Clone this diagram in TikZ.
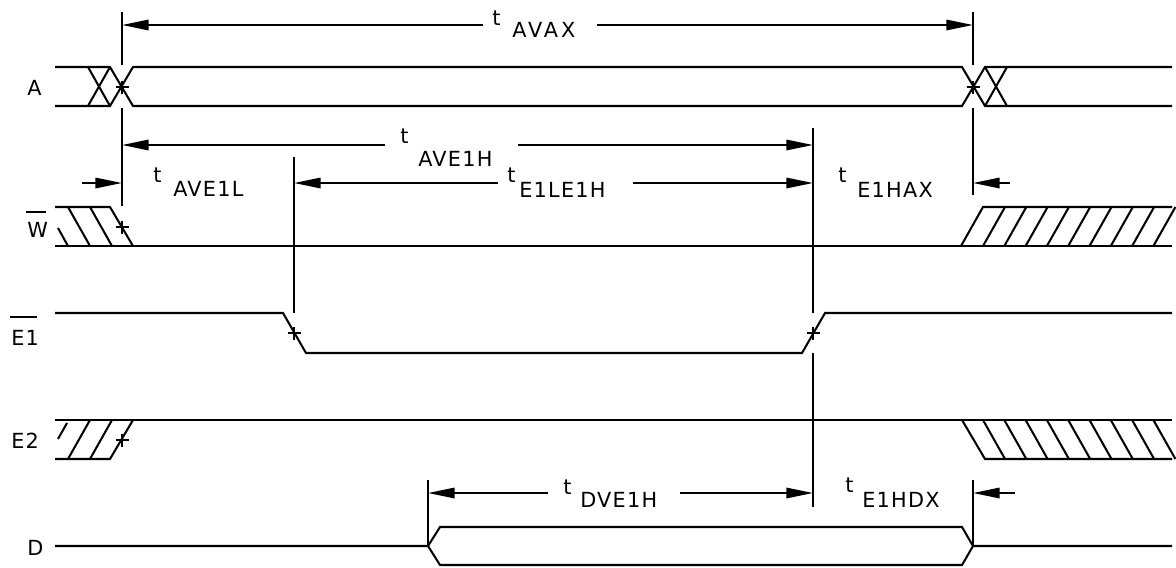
\documentclass[tikz,border=0pt]{standalone}
\usepackage{fontspec}
\setmainfont{DejaVu Sans}[LetterSpace=6.0]
\usetikzlibrary{arrows.meta,calc}
\begin{document}
\begin{tikzpicture}[x=0.025cm,y=-0.025cm,
  wave/.style={line width=1.45pt,line join=miter},
  refline/.style={line width=1.45pt},
  dim/.style={line width=1.45pt,-{Triangle[length=19pt,width=7.4pt]}},
  hatch/.style={line width=1.45pt},
  lbl/.style={inner sep=0pt,anchor=base west,font=\fontsize{14.8}{16}\selectfont},
  crossmark/.pic={\draw[line width=1.45pt] (-6.5,0)--(6.5,0) (0,-6.5)--(0,6.5);}]
\useasboundingbox (0,0) rectangle (1176,567);

% ---------- signal labels ----------
\node[lbl] (lA)  at (27,95)  {A};
\node[lbl] (lW)  at (27,237) {W};
\node[lbl] (lE1) at (11,345) {E1};
\node[lbl] (lE2) at (11,448) {E2};
\node[lbl] (lD)  at (27,555) {D};
\draw[line width=1.45pt] ($(lW.north west)+(-1,-10)$) -- ($(lW.north east)+(-2,-10)$);
\draw[line width=1.45pt] ($(lE1.north west)+(-1,-13)$) -- ($(lE1.north east)+(-2,-13)$);

% ---------- A (bus) ----------
\draw[wave] (55,67)--(110,67)--(133,106)--(962,106)--(985,67)--(1172,67);
\draw[wave] (55,106)--(110,106)--(133,67)--(962,67)--(985,106)--(1172,106);
\draw[wave] (88,67)--(110,106) (88,106)--(110,67);
\draw[wave] (985,67)--(1007,106) (985,106)--(1007,67);
\pic at (122,87) {crossmark};
\pic at (973,87) {crossmark};

% ---------- W ----------
\draw[wave] (55,207)--(110,207)--(133,246);
\draw[wave] (55,246)--(1172,246);
\draw[hatch] (58,228)--(68,246) (68,207)--(90,246) (90,207)--(112,246);
\pic at (122,227) {crossmark};
\draw[wave] (961,246)--(983,207)--(1172,207);
\foreach \x in {983,1004.3,1025.6,1046.9,1068.2,1089.5,1110.8,1132.1,1153.4}
  \draw[hatch] (\x,246)--(\x+22,207);

% ---------- E1 ----------
\draw[wave] (55,313)--(283,313)--(306,353)--(802,353)--(825,313)--(1172,313);
\pic at (294,333) {crossmark};
\pic at (813,333) {crossmark};

% ---------- E2 ----------
\draw[wave] (55,420)--(1172,420);
\draw[wave] (55,459)--(110,459)--(133,420);
\draw[hatch] (58,439)--(67,423) (68,459)--(90,420) (90,459)--(112,420);
\pic at (122,440) {crossmark};
\draw[wave] (962,420)--(985,459)--(1172,459);
\foreach \x in {983,1004.3,1025.6,1046.9,1068.2,1089.5,1110.8,1132.1,1153.4}
  \draw[hatch] (\x,420)--(\x+22,459);

% ---------- D ----------
\draw[wave] (55,546)--(428,546)--(440,527)--(962,527)--(973,546)--(1172,546);
\draw[wave] (428,546)--(440,565)--(962,565)--(973,546);

% ---------- reference lines ----------
\coordinate (r1top) at (122,12);
\coordinate (r1a) at (122,65);
\coordinate (r1b) at (122,108);
\coordinate (r1bot) at (122,206);
\coordinate (r2top) at (973,12);
\coordinate (r2a) at (973,65);
\coordinate (r2b) at (973,108);
\coordinate (r2bot) at (973,195);
\coordinate (r3top) at (813,128);
\coordinate (r3a) at (813,313);
\coordinate (r3b) at (813,353);
\coordinate (r3bot) at (813,507);
\coordinate (r4top) at (294,157);
\coordinate (r4bot) at (294,313);
\coordinate (r5top) at (428,480);
\coordinate (r5bot) at (428,546);
\coordinate (r6top) at (973,480);
\coordinate (r6bot) at (973,546);
\draw[refline] (r1top)--(r1a) (r1b)--(r1bot);
\draw[refline] (r2top)--(r2a) (r2b)--(r2bot);
\draw[refline] (r3top)--(r3a) (r3b)--(r3bot);
\draw[refline] (r4top)--(r4bot);
\draw[refline] (r5top)--(r5bot);
\draw[refline] (r6top)--(r6bot);

% ---------- timing labels ----------
\node[lbl] (tAVAX) at (492,25) {t};   \node[lbl] (sAVAX) at (512,37) {\addfontfeature{LetterSpace=14}AVAX};
\node[lbl] (tAVEH) at (400,143) {t};  \node[lbl] (sAVEH) at (418,166) {AVE1H};
\node[lbl] (tAVEL) at (153,182) {t};  \node[lbl] (sAVEL) at (173,196) {AVE1L};
\node[lbl] (tELEH) at (507,182) {t};  \node[lbl] (sELEH) at (519,197) {E1LE1H};
\node[lbl] (tEHAX) at (838,182) {t};  \node[lbl] (sEHAX) at (857,197) {E1HAX};
\node[lbl] (tDVEH) at (563,494) {t};  \node[lbl] (sDVEH) at (580,507) {DVE1H};
\node[lbl] (tEHDX) at (845,492) {t};  \node[lbl] (sEHDX) at (862,507) {E1HDX};

% ---------- dimension arrows ----------
\coordinate (dAVAXl) at (483,25);  \coordinate (dAVAXr) at (597,25);
\draw[dim] (dAVAXl) -- (r1top|-dAVAXl);
\draw[dim] (dAVAXr) -- (r2top|-dAVAXr);
\coordinate (dAVEHl) at (385,145); \coordinate (dAVEHr) at (518,145);
\draw[dim] (dAVEHl) -- (r1top|-dAVEHl);
\draw[dim] (dAVEHr) -- (r3top|-dAVEHr);
\coordinate (dAVEL) at (82,183);
\draw[dim] (dAVEL) -- (r1top|-dAVEL);
\coordinate (dELEHl) at (498,183); \coordinate (dELEHr) at (633,183);
\draw[dim] (dELEHl) -- (r4top|-dELEHl);
\draw[dim] (dELEHr) -- (r3top|-dELEHr);
\coordinate (dEHAX) at (1010,183);
\draw[dim] (dEHAX) -- (r2top|-dEHAX);
\coordinate (dDVEHl) at (548,493); \coordinate (dDVEHr) at (680,493);
\draw[dim] (dDVEHl) -- (r5top|-dDVEHl);
\draw[dim] (dDVEHr) -- (r3top|-dDVEHr);
\coordinate (dEHDX) at (1015,493);
\draw[dim] (dEHDX) -- (r6top|-dEHDX);
\end{tikzpicture}
\end{document}
